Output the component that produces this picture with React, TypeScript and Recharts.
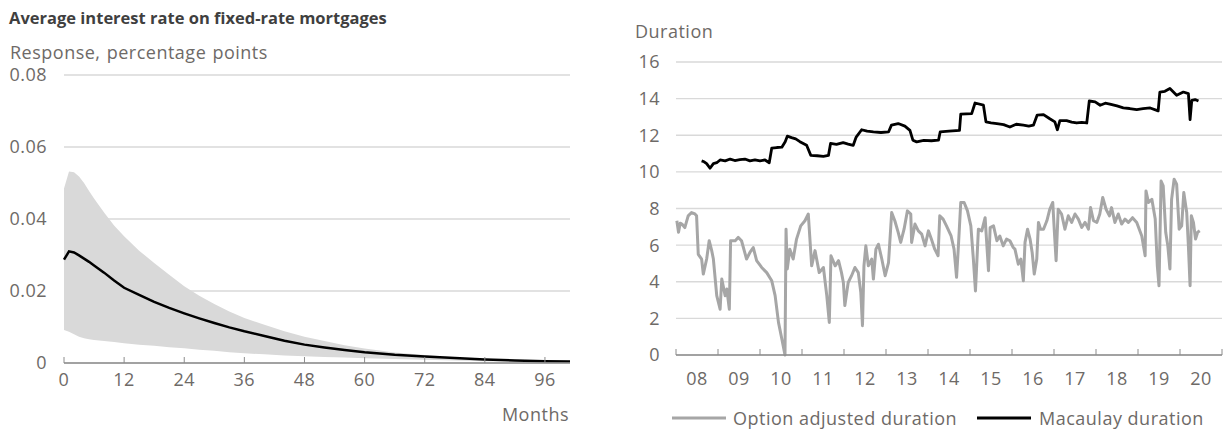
import React from 'react';
import { ComposedChart, LineChart, Line, Area, XAxis, YAxis, CartesianGrid } from 'recharts';

// ---------- Left panel: impulse response ----------
const months = [0, 1, 2, 3, 4, 5, 6, 8, 10, 12, 15, 18, 21, 24, 27, 30, 33, 36, 40, 44, 48, 52, 56, 60, 66, 72, 78, 84, 90, 96, 101];
const meanResponse = [0.0287, 0.031, 0.0307, 0.0299, 0.029, 0.0281, 0.0271, 0.0251, 0.0229, 0.0209, 0.0189, 0.017, 0.0153, 0.0138, 0.0124, 0.0111, 0.0099, 0.0088, 0.0075, 0.0062, 0.0051, 0.0043, 0.0036, 0.003, 0.0023, 0.0018, 0.0014, 0.001, 0.0007, 0.0005, 0.0004];
const upperBand = [0.0485, 0.0532, 0.053, 0.0518, 0.05, 0.0478, 0.0457, 0.0418, 0.0382, 0.0352, 0.0312, 0.0278, 0.0245, 0.0213, 0.0187, 0.0164, 0.0143, 0.0125, 0.0106, 0.0088, 0.0073, 0.0061, 0.0049, 0.004, 0.0029, 0.0022, 0.0016, 0.0012, 0.0009, 0.0006, 0.0005];
const lowerBand = [0.0092, 0.0087, 0.008, 0.0073, 0.0069, 0.0066, 0.0064, 0.0061, 0.0058, 0.0055, 0.0051, 0.0048, 0.0044, 0.0041, 0.0037, 0.0034, 0.003, 0.0027, 0.0024, 0.0021, 0.0019, 0.0017, 0.0015, 0.0013, 0.0011, 0.0009, 0.0007, 0.0005, 0.0004, 0.0003, 0.0003];
const leftYTicks = [0, 0.02, 0.04, 0.06, 0.08];
const leftYTickLabels = ['0', '0.02', '0.04', '0.06', '0.08'];
const leftXTicks = [0, 12, 24, 36, 48, 60, 72, 84, 96];

// ---------- Right panel: durations ----------
const oadYears = [2008.02, 2008.06, 2008.1, 2008.14, 2008.21, 2008.29, 2008.37, 2008.45, 2008.49, 2008.53, 2008.61, 2008.65, 2008.73, 2008.79, 2008.85, 2008.89, 2008.97, 2009.05, 2009.09, 2009.17, 2009.21, 2009.27, 2009.3, 2009.41, 2009.48, 2009.56, 2009.68, 2009.76, 2009.84, 2009.92, 2010.04, 2010.16, 2010.28, 2010.36, 2010.44, 2010.52, 2010.595, 2010.62, 2010.65, 2010.71, 2010.79, 2010.87, 2010.97, 2011.07, 2011.15, 2011.23, 2011.31, 2011.41, 2011.51, 2011.59, 2011.65, 2011.69, 2011.79, 2011.87, 2011.94, 2011.985, 2012.02, 2012.1, 2012.18, 2012.26, 2012.34, 2012.4, 2012.44, 2012.475, 2012.52, 2012.58, 2012.66, 2012.7, 2012.76, 2012.82, 2012.9, 2012.98, 2013.06, 2013.135, 2013.21, 2013.29, 2013.35, 2013.43, 2013.51, 2013.59, 2013.61, 2013.69, 2013.77, 2013.85, 2013.93, 2014.01, 2014.08, 2014.16, 2014.24, 2014.28, 2014.36, 2014.44, 2014.55, 2014.62, 2014.68, 2014.72, 2014.78, 2014.86, 2014.94, 2015.02, 2015.08, 2015.13, 2015.2, 2015.28, 2015.36, 2015.44, 2015.48, 2015.56, 2015.64, 2015.71, 2015.79, 2015.87, 2015.95, 2016.03, 2016.07, 2016.15, 2016.21, 2016.27, 2016.31, 2016.37, 2016.43, 2016.48, 2016.53, 2016.59, 2016.63, 2016.68, 2016.75, 2016.83, 2016.9, 2016.97, 2017.01, 2017.05, 2017.1, 2017.18, 2017.26, 2017.34, 2017.42, 2017.5, 2017.58, 2017.66, 2017.74, 2017.82, 2017.87, 2017.94, 2018.02, 2018.09, 2018.16, 2018.24, 2018.32, 2018.37, 2018.45, 2018.53, 2018.61, 2018.69, 2018.77, 2018.87, 2018.97, 2019.09, 2019.17, 2019.19, 2019.25, 2019.33, 2019.41, 2019.46, 2019.5, 2019.55, 2019.6, 2019.66, 2019.71, 2019.76, 2019.8, 2019.86, 2019.92, 2019.98, 2020.04, 2020.09, 2020.16, 2020.2, 2020.24, 2020.27, 2020.32, 2020.37, 2020.42, 2020.47];
const oadValues = [7.33, 6.7, 7.2, 7.15, 6.96, 7.6, 7.78, 7.7, 7.6, 5.5, 5.24, 4.42, 5.24, 6.24, 5.7, 5.24, 3.24, 2.5, 4.15, 3.24, 3.6, 2.5, 6.24, 6.24, 6.42, 6.24, 5.24, 5.6, 5.87, 5.15, 4.78, 4.5, 4.05, 3.24, 1.78, 0.87, 0, 6.87, 4.7, 5.78, 5.24, 6.33, 7.05, 7.33, 7.7, 4.87, 5.7, 4.5, 4.78, 3.24, 1.78, 5.42, 4.87, 5.15, 4.5, 3.96, 2.7, 3.96, 4.33, 4.78, 4.5, 3.42, 1.6, 4.87, 5.96, 4.87, 5.24, 4.15, 5.78, 6.05, 5.24, 4.33, 5.05, 7.78, 7.33, 6.7, 6.15, 6.87, 7.87, 7.7, 6.15, 7.15, 6.78, 6.6, 5.96, 6.78, 6.33, 5.78, 5.42, 7.6, 7.42, 7.05, 6.5, 5.78, 4.24, 5.78, 8.33, 8.33, 7.87, 7.05, 5.24, 3.5, 6.87, 6.78, 7.5, 4.6, 6.96, 7.05, 6.24, 6.5, 5.96, 6.33, 6.24, 5.87, 5.78, 4.96, 5.24, 4.05, 6.15, 6.87, 6.33, 5.6, 4.42, 5.24, 7.24, 6.87, 6.87, 7.33, 7.96, 8.33, 6.7, 5.15, 7.96, 7.7, 6.87, 7.6, 7.24, 7.7, 7.42, 6.96, 7.24, 6.87, 8.05, 7.33, 7.24, 7.7, 8.6, 7.96, 7.6, 8.05, 7.24, 7.7, 7.15, 7.42, 7.24, 7.5, 7.24, 6.5, 5.42, 8.96, 8.33, 8.5, 7.42, 4.87, 3.78, 9.5, 9.24, 6.7, 5.96, 4.7, 8.5, 9.6, 9.33, 6.87, 7.05, 8.87, 7.78, 5.96, 3.78, 7.6, 7.24, 6.33, 6.7, 6.78];

const macYears = [2008.61, 2008.67, 2008.73, 2008.81, 2008.89, 2008.97, 2009.05, 2009.17, 2009.29, 2009.4, 2009.52, 2009.64, 2009.76, 2009.88, 2010.0, 2010.12, 2010.22, 2010.28, 2010.4, 2010.52, 2010.6, 2010.65, 2010.75, 2010.85, 2010.95, 2011.03, 2011.11, 2011.21, 2011.36, 2011.51, 2011.63, 2011.68, 2011.82, 2011.98, 2012.1, 2012.22, 2012.29, 2012.42, 2012.55, 2012.7, 2012.88, 2013.06, 2013.13, 2013.29, 2013.45, 2013.57, 2013.64, 2013.73, 2013.9, 2014.08, 2014.25, 2014.29, 2014.5, 2014.75, 2014.78, 2015.04, 2015.12, 2015.32, 2015.38, 2015.5, 2015.64, 2015.8, 2015.95, 2016.1, 2016.27, 2016.4, 2016.51, 2016.6, 2016.75, 2016.9, 2017.02, 2017.08, 2017.14, 2017.3, 2017.42, 2017.54, 2017.66, 2017.78, 2017.84, 2017.98, 2018.1, 2018.22, 2018.33, 2018.5, 2018.65, 2018.8, 2018.97, 2019.12, 2019.29, 2019.48, 2019.52, 2019.64, 2019.76, 2019.92, 2020.08, 2020.2, 2020.24, 2020.28, 2020.36, 2020.44];
const macValues = [10.6, 10.55, 10.45, 10.2, 10.45, 10.5, 10.65, 10.6, 10.7, 10.62, 10.67, 10.7, 10.6, 10.66, 10.6, 10.65, 10.5, 11.3, 11.33, 11.35, 11.65, 11.95, 11.87, 11.8, 11.65, 11.55, 11.45, 10.9, 10.88, 10.85, 10.9, 11.55, 11.5, 11.6, 11.52, 11.45, 11.9, 12.3, 12.22, 12.18, 12.15, 12.18, 12.55, 12.64, 12.5, 12.27, 11.73, 11.64, 11.72, 11.7, 11.73, 12.18, 12.22, 12.27, 13.15, 13.18, 13.76, 13.64, 12.73, 12.68, 12.64, 12.58, 12.45, 12.6, 12.55, 12.5, 12.55, 13.1, 13.13, 12.9, 12.73, 12.3, 12.8, 12.8, 12.72, 12.67, 12.7, 12.67, 13.87, 13.82, 13.64, 13.75, 13.7, 13.6, 13.5, 13.46, 13.4, 13.45, 13.49, 13.33, 14.36, 14.4, 14.55, 14.18, 14.36, 14.27, 12.85, 13.9, 13.95, 13.87];
const rightYTicks = [0, 2, 4, 6, 8, 10, 12, 14, 16];
const yearTicks = [2008, 2009, 2010, 2011, 2012, 2013, 2014, 2015, 2016, 2017, 2018, 2019, 2020, 2021];
const yearLabels = ['08', '09', '10', '11', '12', '13', '14', '15', '16', '17', '18', '19', '20'];

const leftData = months.map((m, i) => ({ m, mean: meanResponse[i], band: [lowerBand[i], upperBand[i]] }));
const oadData = oadYears.map((t, i) => ({ t, v: oadValues[i] }));
const macData = macYears.map((t, i) => ({ t, v: macValues[i] }));

const FONT = '"Open Sans", "Noto Sans", sans-serif';
const TEXT = '#6e6a67';
const GRID = '#d9d9d9';
const AXIS = '#8c8c8c';
const FS = 18;
const LS = 0.5;

const RIGHT_W = 614;
const RIGHT_MARGIN_L = 10;
const RIGHT_YAXIS_W = 56;
const RIGHT_MARGIN_R = 2;
const RIGHT_PLOT_W = RIGHT_W - RIGHT_MARGIN_L - RIGHT_YAXIS_W - RIGHT_MARGIN_R;

const LeftXTick = (props: any) => {
  const { x, y, payload } = props;
  return (
    <g>
      <line x1={x} x2={x} y1={y - 6} y2={y} stroke={AXIS} strokeWidth={1} />
      <text x={x} y={y + 16} textAnchor="middle" dominantBaseline="central" fill={TEXT} fontSize={FS} letterSpacing={LS} fontFamily={FONT}>
        {payload.value}
      </text>
    </g>
  );
};

const RightXTick = (props: any) => {
  const { x, y, index } = props;
  const half = RIGHT_PLOT_W / (yearTicks.length - 1) / 2;
  return (
    <g>
      <line x1={x} x2={x} y1={y - 6} y2={y} stroke={AXIS} strokeWidth={1} />
      {index < yearLabels.length && (
        <text x={x + half} y={y + 23} textAnchor="middle" dominantBaseline="central" fill={TEXT} fontSize={FS} letterSpacing={LS} fontFamily={FONT}>
          {yearLabels[index]}
        </text>
      )}
    </g>
  );
};

export default function App() {
  return (
    <div style={{ position: 'absolute', left: 0, top: 0, width: 1224, height: 432, background: '#fff', fontFamily: FONT }}>
      <div style={{ position: 'absolute', left: 0, top: 0 }}>
        <ComposedChart width={600} height={432} data={leftData} margin={{ top: 75, right: 30, bottom: 39, left: 10 }}>
          <CartesianGrid vertical={false} stroke={GRID} strokeWidth={1.3} />
          <XAxis
            dataKey="m"
            type="number"
            domain={[0, 101]}
            ticks={leftXTicks}
            interval={0}
            height={30}
            tickSize={0}
            tickMargin={0}
            tickLine={false}
            axisLine={{ stroke: AXIS, strokeWidth: 1.3 }}
            tick={<LeftXTick />}
          />
          <YAxis
            type="number"
            domain={[0, 0.08]}
            ticks={leftYTicks}
            interval={0}
            width={54}
            axisLine={false}
            tickLine={false}
            tickMargin={11}
            tickFormatter={(v: number) => leftYTickLabels[leftYTicks.indexOf(v)] ?? String(v)}
            tick={{ fill: TEXT, fontSize: FS, fontFamily: FONT, letterSpacing: LS }}
          />
          <Area dataKey="band" type="linear" stroke="none" fill="#d9d9d9" fillOpacity={1} isAnimationActive={false} />
          <Line dataKey="mean" type="linear" stroke="#000" strokeWidth={2.5} dot={false} isAnimationActive={false} />
        </ComposedChart>
      </div>

      <div style={{ position: 'absolute', left: 1224 - RIGHT_W, top: 0 }}>
        <LineChart width={RIGHT_W} height={432} margin={{ top: 62, right: RIGHT_MARGIN_R, bottom: 47, left: RIGHT_MARGIN_L }}>
          <CartesianGrid vertical={false} stroke={GRID} strokeWidth={1.3} />
          <XAxis
            dataKey="t"
            type="number"
            domain={[2008, 2021]}
            ticks={yearTicks}
            interval={0}
            height={30}
            tickSize={0}
            tickMargin={0}
            tickLine={false}
            allowDuplicatedCategory={false}
            axisLine={{ stroke: AXIS, strokeWidth: 1.3 }}
            tick={<RightXTick />}
          />
          <YAxis
            type="number"
            domain={[0, 16]}
            ticks={rightYTicks}
            interval={0}
            width={RIGHT_YAXIS_W}
            axisLine={false}
            tickLine={false}
            tickMargin={10}
            tick={{ fill: TEXT, fontSize: FS, fontFamily: FONT, letterSpacing: LS }}
          />
          <Line data={oadData} dataKey="v" type="linear" stroke="#a6a6a6" strokeWidth={3} strokeLinejoin="round" dot={false} isAnimationActive={false} />
          <Line data={macData} dataKey="v" type="linear" stroke="#000" strokeWidth={2.8} strokeLinejoin="round" dot={false} isAnimationActive={false} />
        </LineChart>
      </div>

      <svg width={1224} height={432} style={{ position: 'absolute', left: 0, top: 0, pointerEvents: 'none' }}>
        <text x={9} y={17} dominantBaseline="central" fill="#3f3f3f" fontSize={16.5} fontWeight={700} fontFamily={FONT}>
          Average interest rate on fixed-rate mortgages
        </text>
        <text x={10} y={52} dominantBaseline="central" fill={TEXT} fontSize={FS} letterSpacing={LS} fontFamily={FONT} style={{ wordSpacing: 1 }}>
          Response, percentage points
        </text>
        <text x={569} y={414} textAnchor="end" dominantBaseline="central" fill={TEXT} fontSize={FS} letterSpacing={LS} fontFamily={FONT}>
          Months
        </text>
        <text x={635} y={31} dominantBaseline="central" fill={TEXT} fontSize={FS} letterSpacing={LS} fontFamily={FONT}>
          Duration
        </text>
        <line x1={672} x2={726} y1={418} y2={418} stroke="#a6a6a6" strokeWidth={3} />
        <text x={733} y={418} dominantBaseline="central" fill={TEXT} fontSize={FS} letterSpacing={LS} fontFamily={FONT}>
          Option adjusted duration
        </text>
        <line x1={977} x2={1031} y1={418} y2={418} stroke="#000" strokeWidth={3} />
        <text x={1039} y={418} dominantBaseline="central" fill={TEXT} fontSize={FS} letterSpacing={LS} fontFamily={FONT}>
          Macaulay duration
        </text>
      </svg>
    </div>
  );
}
